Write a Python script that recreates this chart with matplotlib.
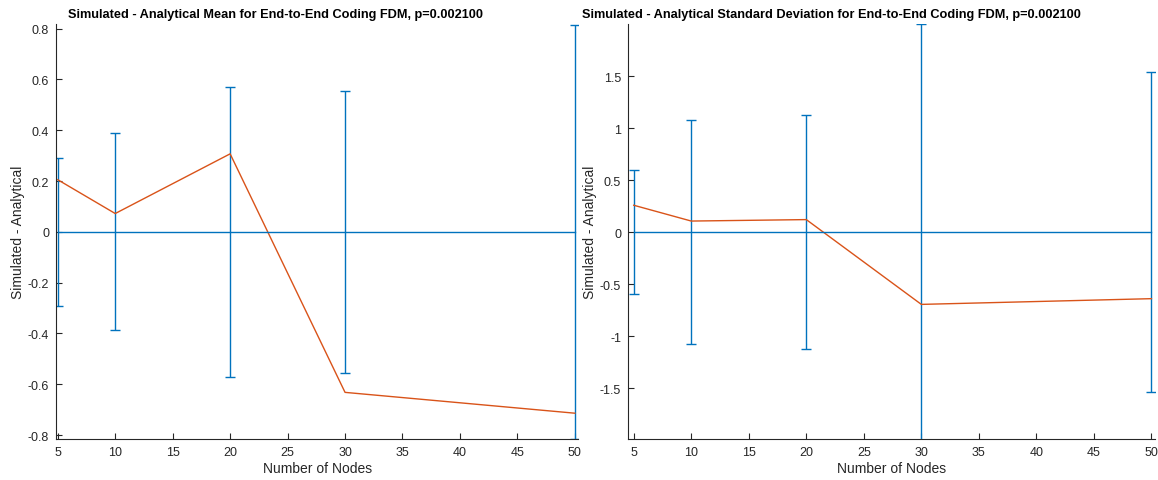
import matplotlib
matplotlib.use('Agg')
import matplotlib.pyplot as plt
import numpy as np

# data
nodes = [5, 10, 20, 30, 50]
mean_diff = [0.205, 0.072, 0.307, -0.632, -0.714]
mean_err = [0.292, 0.388, 0.570, 0.554, 0.815]
std_diff = [0.258, 0.106, 0.120, -0.695, -0.640]
std_err = [0.594, 1.078, 1.122, 2.0, 1.535]

blue = '#0072BD'
orange = '#D95319'

plt.rcParams['font.family'] = ['Liberation Sans', 'DejaVu Sans']
plt.rcParams['font.size'] = 9

fig = plt.figure(figsize=(11.58, 4.81), dpi=100)
ax1 = fig.add_axes([0.0484, 0.085, 0.451, 0.863])
ax2 = fig.add_axes([0.5423, 0.085, 0.455, 0.863])

def panel(ax, diff, err, ylim, yticks, title, tx):
    ax.errorbar(nodes, np.zeros(len(nodes)), yerr=err, color=blue,
                linewidth=1.0, capsize=3.5, capthick=1.0, elinewidth=1.0)
    ax.plot(nodes, diff, color=orange, linewidth=1.0)
    ax.set_xlim(4.85, 50.3)
    ax.set_ylim(*ylim)
    ax.set_xticks(range(5, 51, 5))
    ax.set_yticks(yticks)
    ax.set_yticklabels(['%g' % (t + 0.0) for t in yticks])
    ax.spines['top'].set_visible(False)
    ax.spines['right'].set_visible(False)
    for s in ['left', 'bottom']:
        ax.spines[s].set_color('#262626')
        ax.spines[s].set_linewidth(0.8)
    ax.tick_params(direction='in', length=4, width=0.8, colors='#262626',
                   labelsize=9, pad=5)
    ax.set_xlabel('Number of Nodes', fontsize=10, color='#262626', labelpad=2)
    ax.set_ylabel('Simulated - Analytical', fontsize=10, color='#262626', labelpad=2)
    ax.set_title(title, fontsize=9.2, fontweight='bold', pad=5, x=tx)

panel(ax1, mean_diff, mean_err, (-0.816, 0.818), np.round(np.arange(-0.8, 0.81, 0.2), 1),
      'Simulated - Analytical Mean for End-to-End Coding FDM, p=0.002100', 0.421)
panel(ax2, std_diff, std_err, (-1.99, 2.0), np.arange(-1.5, 1.51, 0.5),
      'Simulated - Analytical Standard Deviation for End-to-End Coding FDM, p=0.002100', 0.387)
ax2.set_xlim(4.5, 50.3)

fig.savefig('out.png', dpi=100)
